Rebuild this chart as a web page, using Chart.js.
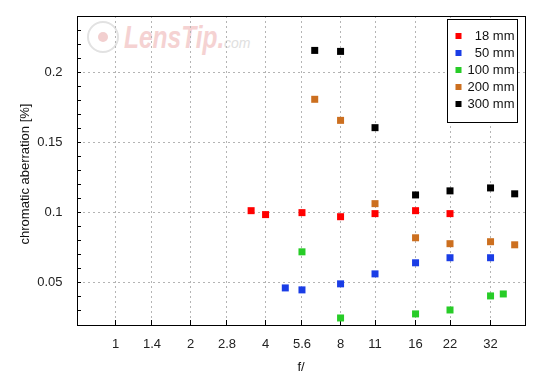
<!DOCTYPE html>
<html lang="en">
<head>
<meta charset="UTF-8">
<title>Chromatic aberration</title>
<script src="https://cdn.jsdelivr.net/npm/chart.js"></script>
<style>
    body {
        margin: 0;
        background: #fff;
    }
    .wrap {
        position: relative;
        width: 550px;
        height: 380px;
        overflow: hidden;
    }
    /* LensTip watermark sits behind the (transparent) canvas */
    .wm-logo {
        position: absolute;
        left: 87px;
        top: 21px;
        width: 28px;
        height: 28px;
        border: 2.5px solid #e2e2e2;
        border-radius: 50%;
    }
    .wm-dot {
        position: absolute;
        left: 9px;
        top: 9px;
        width: 10px;
        height: 10px;
        border-radius: 50%;
        background: #f2cfcf;
    }
    .wm-text {
        position: absolute;
        left: 124px;
        top: 21.7px;
        font: italic bold 31px/31px "Liberation Sans", Arial, sans-serif;
        color: #f5d2d2;
        white-space: nowrap;
        transform: scaleX(0.79);
        transform-origin: left top;
    }
    .wm-com {
        position: absolute;
        left: 224px;
        top: 36.2px;
        font: italic 14px/14px "Liberation Sans", Arial, sans-serif;
        color: #e0e0e0;
    }
    #caChart {
        position: absolute;
        left: 0;
        top: 0;
    }
</style>
</head>
<body>
<div class="wrap">
    <div class="wm-logo"><div class="wm-dot"></div></div>
    <span class="wm-text">LensTip.</span>
    <span class="wm-com">com</span>
    <canvas id="caChart" width="550" height="380"></canvas>
</div>
<script>
    // series names and colours (legend)
    const seriesNames = ['18 mm', '50 mm', '100 mm', '200 mm', '300 mm'];
    const seriesColors = ['#ff0000', '#1a3de6', '#27cc27', '#cc6f1f', '#000000'];

    // aperture (f-number) and chromatic aberration [%] for each focal length
    const f18 = [3.5, 4, 5.6, 8, 11, 16, 22];
    const ca18 = [0.1014, 0.0986, 0.1000, 0.0971, 0.0993, 0.1014, 0.0993];
    const f50 = [4.8, 5.6, 8, 11, 16, 22, 32];
    const ca50 = [0.0464, 0.0450, 0.0493, 0.0564, 0.0643, 0.0679, 0.0679];
    const f100 = [5.6, 8, 16, 22, 32, 36];
    const ca100 = [0.0721, 0.0250, 0.0279, 0.0307, 0.0407, 0.0421];
    const f200 = [6.3, 8, 11, 16, 22, 32, 40];
    const ca200 = [0.1807, 0.1657, 0.1064, 0.0821, 0.0779, 0.0793, 0.0771];
    const f300 = [6.3, 8, 11, 16, 22, 32, 40];
    const ca300 = [0.2155, 0.2148, 0.1605, 0.1126, 0.1155, 0.1176, 0.1134];

    // axis ticks
    const xTicks = [1, 1.4, 2, 2.8, 4, 5.6, 8, 11, 16, 22, 32];
    const xTickLabels = ['1', '1.4', '2', '2.8', '4', '5.6', '8', '11', '16', '22', '32'];
    const yMajor = [5, 10, 15, 20];          // in hundredths
    const yTickLabels = ['0.05', '0.1', '0.15', '0.2'];

    const xs = [f18, f50, f100, f200, f300];
    const ys = [ca18, ca50, ca100, ca200, ca300];

    const datasets = seriesNames.map((name, i) => ({
        label: name,
        data: xs[i].map((f, k) => ({ x: f, y: ys[i][k] })),
        backgroundColor: seriesColors[i],
        borderWidth: 0,
        pointStyle: 'rect',
        pointRadius: 4.95
    }));

    const fontName = '"Liberation Sans", Arial, sans-serif';

    // legend box and y title
    const decorPlugin = {
        id: 'decor',
        afterDraw(chart) {
            const ctx = chart.ctx;
            const sx = chart.scales.x, sy = chart.scales.y;
            const R = Math.round(sx.right), T = Math.round(sy.top);

            ctx.save();
            const bx = R - 78 + 0.5, by = T + 3.5;
            const bw = 70, bh = 103;
            ctx.fillStyle = '#fff';
            ctx.fillRect(bx, by, bw, bh);
            ctx.strokeStyle = '#000';
            ctx.lineWidth = 1;
            ctx.strokeRect(bx, by, bw, bh);
            ctx.font = '13px ' + fontName;
            ctx.textAlign = 'right';
            ctx.textBaseline = 'middle';
            seriesNames.forEach((name, i) => {
                const ry = by + 16.5 + i * 17.1;
                ctx.fillStyle = seriesColors[i];
                ctx.fillRect(bx + 8, Math.round(ry) - 3, 6, 6);
                ctx.fillStyle = '#111';
                ctx.fillText(name, bx + 67, ry + 0.5);
            });
            ctx.translate(25, 174);
            ctx.rotate(-Math.PI / 2);
            ctx.textAlign = 'center';
            ctx.fillStyle = '#111';
            ctx.fillText('chromatic aberration [%]', 0, 0);
            ctx.restore();
        }
    };

    const isMajor = v => yMajor.includes(Math.round(v * 100));
    const noPad = s => { s.paddingTop = 0; s.paddingBottom = 0; s.paddingLeft = 0; s.paddingRight = 0; };

    new Chart(document.getElementById('caChart'), {
        type: 'scatter',
        data: { datasets: datasets },
        options: {
            responsive: false,
            animation: false,
            events: [],
            layout: { padding: { top: 16, right: 25, left: 0, bottom: 0 } },
            plugins: {
                legend: { display: false },
                tooltip: { enabled: false }
            },
            scales: {
                x: {
                    type: 'logarithmic',
                    position: 'bottom',
                    min: 0.7,
                    max: 44,
                    afterBuildTicks: scale => {
                        scale.ticks = xTicks.map(v => ({ value: v }));
                    },
                    afterFit: scale => { scale.height = 55; },
                    ticks: {
                        autoSkip: false,
                        maxRotation: 0,
                        padding: 17,
                        color: '#222',
                        font: { family: fontName, size: 13 },
                        callback: (v, i) => xTickLabels[i]
                    },
                    grid: {
                        color: '#b4b4b4',
                        lineWidth: 1,
                        drawTicks: true,
                        tickLength: -5,
                        tickColor: '#000',
                        tickWidth: 1,
                        tickBorderDash: []
                    },
                    border: { display: true, color: '#000', width: 1, dash: [2, 3] },
                    title: {
                        display: true,
                        text: 'f/',
                        color: '#111',
                        font: { family: fontName, size: 13 },
                        padding: { top: 0, bottom: 5 }
                    }
                },
                y: {
                    position: 'left',
                    min: 0.02,
                    max: 0.24,
                    afterFit: scale => { scale.width = 77; noPad(scale); },
                    ticks: {
                        stepSize: 0.01,
                        autoSkip: false,
                        padding: 18.5,
                        color: '#222',
                        font: { family: fontName, size: 13 },
                        callback: v => isMajor(v) ? yTickLabels[yMajor.indexOf(Math.round(v * 100))] : ''
                    },
                    grid: {
                        color: c => (c.tick && isMajor(c.tick.value)) ? '#b4b4b4' : 'rgba(0,0,0,0)',
                        lineWidth: 1,
                        drawTicks: true,
                        tickLength: -4,
                        tickColor: '#000',
                        tickWidth: 1,
                        tickBorderDash: []
                    },
                    border: { display: true, color: '#000', width: 1, dash: [2, 3] }
                },
                // top and right edges of the plot frame
                xTop: {
                    type: 'linear',
                    position: 'top',
                    min: 0,
                    max: 1,
                    afterFit: scale => { scale.height = 0; noPad(scale); },
                    ticks: { display: false },
                    grid: { display: false, drawTicks: false },
                    border: { display: true, color: '#000', width: 1 }
                },
                yRight: {
                    type: 'linear',
                    position: 'right',
                    min: 0,
                    max: 1,
                    afterFit: scale => { scale.width = 0; noPad(scale); },
                    ticks: { display: false },
                    grid: { display: false, drawTicks: false },
                    border: { display: true, color: '#000', width: 1 }
                }
            }
        },
        plugins: [decorPlugin]
    });
</script>
</body>
</html>
